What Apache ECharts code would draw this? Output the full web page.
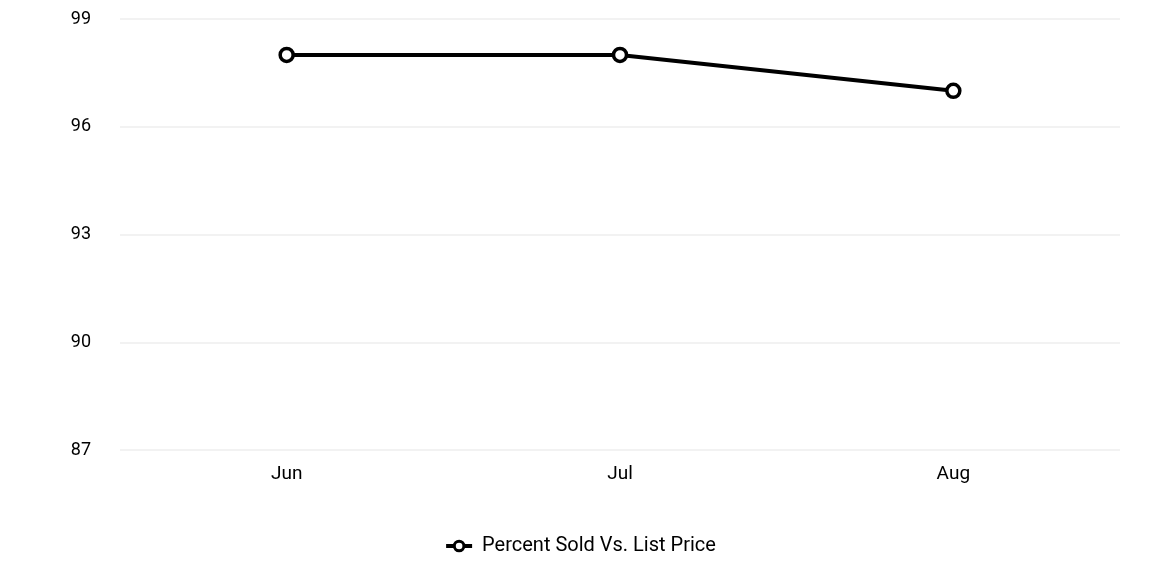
<!DOCTYPE html>
<html>
<head>
<meta charset="utf-8">
<script src="https://cdn.jsdelivr.net/npm/echarts@6/dist/echarts.min.js"></script>
<style>
  html, body { margin: 0; padding: 0; background: #fff; }
  #chart { width: 1160px; height: 580px; }
</style>
</head>
<body>
<div id="chart"></div>
<script>
// chart data
const months = ['Jun', 'Jul', 'Aug'];
const percentSold = [98, 98, 97];
const seriesName = 'Percent Sold Vs. List Price';

const chart = echarts.init(document.getElementById('chart'));

chart.setOption({
  animation: false,
  textStyle: { fontFamily: 'Roboto' },
  grid: { left: 120, right: 40, top: 19, bottom: 130 },
  legend: {
    bottom: 19,
    left: 'center',
    itemWidth: 26,
    itemHeight: 12,
    itemGap: 10,
    lineStyle: { width: 4 },
    itemStyle: { borderWidth: 3 },
    textStyle: { fontSize: 20, color: '#000', fontFamily: 'Roboto', padding: [0, 0, 0, 5] },
    data: [seriesName]
  },
  xAxis: {
    type: 'category',
    data: months,
    boundaryGap: true,
    axisLine: { show: false },
    axisTick: { show: false },
    axisLabel: { fontSize: 19, color: '#000', margin: 15 }
  },
  yAxis: {
    type: 'value',
    min: 87,
    max: 99,
    interval: 3,
    axisLabel: { fontSize: 18, color: '#000', margin: 29 },
    splitLine: { lineStyle: { color: '#f2f2f2', width: 2 } }
  },
  series: [{
    name: seriesName,
    type: 'line',
    data: percentSold,
    symbol: 'circle',
    symbolSize: 13,
    lineStyle: { color: '#000', width: 4 },
    itemStyle: { color: '#fff', borderColor: '#000', borderWidth: 3.5 }
  }]
});
</script>
</body>
</html>
